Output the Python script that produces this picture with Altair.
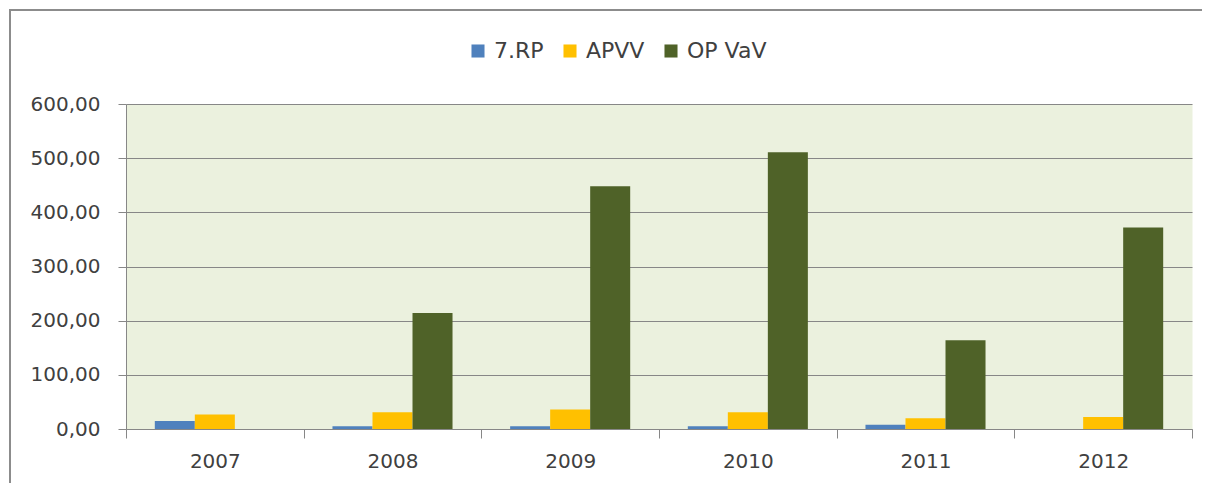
import altair as alt
import pandas as pd

years = ["2007", "2008", "2009", "2010", "2011", "2012"]
series = ["7.RP", "APVV", "OP VaV"]
rp7 = [15, 5, 5, 5, 8, 0]
apvv = [27, 31, 36, 31, 20, 22]
opvav = [0, 214, 448, 511, 164, 372]
colors = ["#4F81BD", "#FFC000", "#4F6228"]
y_ticks = [0, 100, 200, 300, 400, 500, 600]

rows = []
for i, yr in enumerate(years):
    for s, vals in zip(series, [rp7, apvv, opvav]):
        rows.append({"year": yr, "series": s, "value": vals[i]})
df = pd.DataFrame(rows)

FONT = "DejaVu Sans"
GRAY = "#878787"
TXT = "#404040"

bars = alt.Chart(df).mark_bar().encode(
    x=alt.X(
        "year:N", sort=years,
        scale=alt.Scale(paddingInner=0, paddingOuter=0),
        axis=alt.Axis(title=None, labelAngle=0, tickBand="extent", tickSize=9,
                      tickColor=GRAY, domainColor=GRAY, labelFont=FONT,
                      labelFontSize=20, labelColor=TXT, labelPadding=13, grid=False),
    ),
    xOffset=alt.XOffset("series:N", sort=series,
                        scale=alt.Scale(paddingInner=0, paddingOuter=0.72)),
    y=alt.Y(
        "value:Q",
        scale=alt.Scale(domain=[0, 600], nice=False),
        axis=alt.Axis(title=None, values=y_ticks,
                      labelExpr="replace(format(datum.value, '.2f'), '.', ',')",
                      tickSize=8, tickColor=GRAY, domainColor=GRAY,
                      gridColor=GRAY, grid=True, labelFont=FONT,
                      labelFontSize=20, labelColor=TXT, labelPadding=18),
    ),
    color=alt.Color(
        "series:N", sort=series,
        scale=alt.Scale(domain=series, range=colors),
        legend=alt.Legend(title=None, orient="none", legendX=341, legendY=-64,
                          direction="horizontal", symbolType="square",
                          symbolSize=170, symbolStrokeWidth=0, labelFont=FONT,
                          labelFontSize=22, labelColor=TXT, columnPadding=15,
                          labelOffset=5, padding=0),
    ),
)

one = pd.DataFrame({"a": [0]})
frame_left = alt.Chart(one).mark_rule(color="#8c8c8c", strokeWidth=2).encode(
    x=alt.value(-116), y=alt.value(-95), y2=alt.value(400)
)
frame_top = alt.Chart(one).mark_rule(color="#8c8c8c", strokeWidth=2).encode(
    x=alt.value(-117), x2=alt.value(1100), y=alt.value(-94)
)

chart = alt.layer(bars, frame_left, frame_top).properties(
    width=1066, height=325,
    autosize=alt.AutoSizeParams(type="none"),
    padding={"left": 118, "top": 96, "right": 10, "bottom": 54},
    background="white",
).configure_view(fill="#EBF1DE", stroke="transparent")

chart.save("out.html", embed_options={"renderer": "svg", "actions": False})
